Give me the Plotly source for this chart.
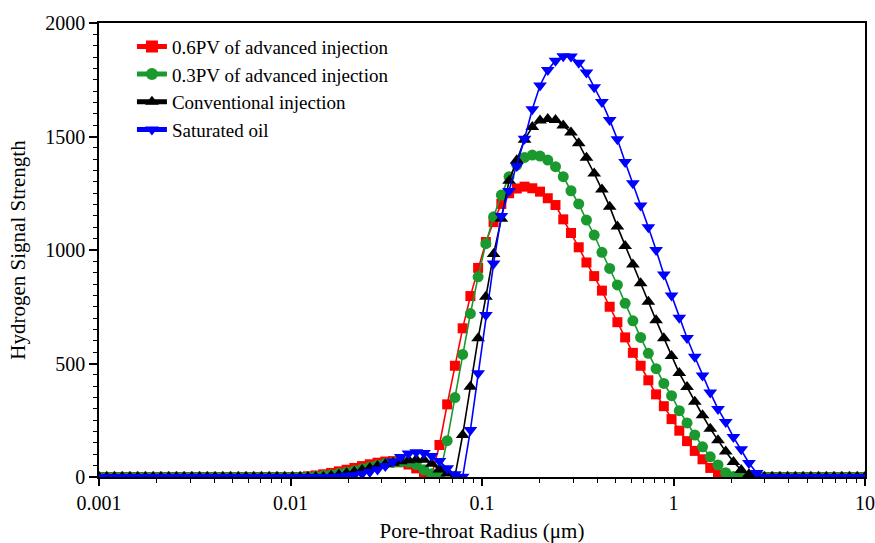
import plotly.graph_objects as go

# Pore-throat radius grid (µm), 100 log-spaced points from 0.001 to 10
radius = [
    0.001, 0.0010975, 0.0012045, 0.0013219, 0.0014508, 0.0015923, 0.0017475, 0.0019179, 0.0021049, 0.0023101,
    0.0025354, 0.0027825, 0.0030538, 0.0033516, 0.0036783, 0.0040370, 0.0044305, 0.0048625, 0.0053366, 0.0058569,
    0.0064279, 0.0070546, 0.0077424, 0.0084972, 0.0093257, 0.010235, 0.011233, 0.012329, 0.013531, 0.014850,
    0.016298, 0.017886, 0.019630, 0.021544, 0.023645, 0.025950, 0.028480, 0.031257, 0.034305, 0.037649,
    0.041320, 0.045349, 0.049770, 0.054623, 0.059948, 0.065793, 0.072207, 0.079247, 0.086974, 0.095454,
    0.10476, 0.11497, 0.12618, 0.13849, 0.15199, 0.16681, 0.18307, 0.20092, 0.22051, 0.24201,
    0.26560, 0.29150, 0.31992, 0.35111, 0.38534, 0.42291, 0.46416, 0.50941, 0.55908, 0.61359,
    0.67341, 0.73907, 0.81112, 0.89020, 0.97700, 1.0723, 1.1768, 1.2915, 1.4175, 1.5557,
    1.7073, 1.8738, 2.0565, 2.2570, 2.4770, 2.7185, 2.9836, 3.2745, 3.5937, 3.9441,
    4.3286, 4.7507, 5.2138, 5.7222, 6.2800, 6.8923, 7.5643, 8.3018, 9.1112, 10.0,
]

adv_06pv = [
    0, 0, 0, 0, 0, 0, 0, 0, 0, 0,
    0, 0, 0, 0, 0, 0, 0, 0, 0, 0,
    0, 0, 0, 0, 0, 0, 0, 3, 7, 12,
    18, 25, 32, 40, 48, 56, 63, 68, 70, 65,
    55, 38, 20, 8, 141, 320, 490, 655, 797, 921,
    1035, 1123, 1203, 1250, 1271, 1279, 1272, 1257, 1228, 1198,
    1135, 1075, 1012, 945, 885, 821, 750, 682, 615, 547,
    490, 426, 364, 312, 255, 204, 158, 115, 78, 40,
    10, 0, 0, 0, 0, 0, 0, 0, 0, 0,
    0, 0, 0, 0, 0, 0, 0, 0, 0, 0,
]

adv_03pv = [
    0, 0, 0, 0, 0, 0, 0, 0, 0, 0,
    0, 0, 0, 0, 0, 0, 0, 0, 0, 0,
    0, 0, 0, 0, 0, 0, 0, 0, 3, 6,
    10, 15, 21, 28, 36, 44, 52, 59, 64, 67,
    66, 55, 32, 14, 5, 160, 350, 540, 720, 882,
    1028, 1146, 1242, 1323, 1374, 1408, 1418, 1414, 1396, 1367,
    1323, 1261, 1203, 1132, 1066, 990, 919, 846, 765, 688,
    615, 545, 477, 412, 358, 292, 238, 185, 133, 89,
    53, 19, 2, 0, 0, 0, 0, 0, 0, 0,
    0, 0, 0, 0, 0, 0, 0, 0, 0, 0,
]

conventional = [
    0, 0, 0, 0, 0, 0, 0, 0, 0, 0,
    0, 0, 0, 0, 0, 0, 0, 0, 0, 0,
    0, 0, 0, 0, 0, 0, 0, 0, 0, 0,
    5, 10, 16, 23, 31, 40, 48, 56, 63, 69,
    74, 77, 76, 58, 33, 15, 2, 185, 398, 611,
    794, 982, 1138, 1305, 1395, 1486, 1542, 1570, 1577, 1573,
    1548, 1518, 1470, 1406, 1337, 1266, 1191, 1103, 1018, 936,
    853, 772, 690, 611, 533, 458, 396, 332, 272, 213,
    162, 112, 66, 31, 12, 0, 0, 0, 0, 0,
    0, 0, 0, 0, 0, 0, 0, 0, 0, 0,
]

saturated = [
    0, 0, 0, 0, 0, 0, 0, 0, 0, 0,
    0, 0, 0, 0, 0, 0, 0, 0, 0, 0,
    0, 0, 0, 0, 0, 0, 0, 0, 0, 0,
    0, 2, 5, 8, 14, 22, 33, 48, 68, 88,
    103, 109, 106, 93, 70, 38, 12, 1, 207, 457,
    714, 940, 1150, 1260, 1370, 1490, 1620, 1725, 1793, 1834,
    1853, 1852, 1825, 1782, 1717, 1652, 1573, 1488, 1388, 1294,
    1196, 1100, 1000, 892, 800, 702, 612, 530, 447, 372,
    300, 242, 176, 122, 62, 18, 0, 0, 0, 0,
    0, 0, 0, 0, 0, 0, 0, 0, 0, 0,
]

series_names = [
    "0.6PV of advanced injection",
    "0.3PV of advanced injection",
    "Conventional injection",
    "Saturated oil",
]
series_values = [adv_06pv, adv_03pv, conventional, saturated]
series_colors = ["#ff0000", "#1a9a2e", "#000000", "#0000ff"]
series_symbols = ["square", "circle", "triangle-up", "triangle-down"]
series_sizes = [10, 11, 12, 12]

x_tick_vals = [0.001, 0.01, 0.1, 1, 10]
x_tick_text = ["0.001", "0.01", "0.1", "1", "10"]
y_tick_vals = [0, 500, 1000, 1500, 2000]

FONT = "Liberation Serif, Times New Roman, serif"

fig = go.Figure()
for name, vals, col, sym, sz in zip(series_names, series_values, series_colors,
                                     series_symbols, series_sizes):
    fig.add_trace(go.Scatter(
        x=radius, y=vals, name=name, mode="lines+markers",
        line=dict(color=col, width=1.6),
        marker=dict(symbol=sym, size=sz, color=col, line=dict(width=0)),
    ))

fig.update_layout(
    width=875, height=543,
    margin=dict(l=99, r=10, t=23, b=66, autoexpand=False),
    paper_bgcolor="white", plot_bgcolor="white",
    font=dict(family=FONT, size=20, color="black"),
    showlegend=True,
    legend=dict(x=0.043, y=0.99, xanchor="left", yanchor="top",
                bgcolor="rgba(0,0,0,0)", font=dict(size=19, family=FONT),
                tracegroupgap=0, itemsizing="constant"),
)

fig.update_xaxes(
    type="log", range=[-3, 1], automargin=False,
    tickvals=x_tick_vals, ticktext=x_tick_text,
    ticks="outside", ticklen=7, tickwidth=1.5, tickcolor="black",
    showline=True, linewidth=1.5, linecolor="black", mirror=True,
    showgrid=False, zeroline=False,
    minor=dict(ticks="outside", ticklen=4, tickwidth=1.2, tickcolor="black",
               dtick="D1", showgrid=False),
    tickfont=dict(size=20, family=FONT),
    title=dict(text="Pore-throat Radius (μm)", font=dict(size=21, family=FONT), standoff=18),
)
fig.update_yaxes(
    range=[0, 2000], tickvals=y_tick_vals, automargin=False,
    ticks="outside", ticklen=8, tickwidth=1.5, tickcolor="black",
    showline=True, linewidth=1.5, linecolor="black", mirror=True,
    showgrid=False, zeroline=False,
    minor=dict(ticks="outside", ticklen=4, tickwidth=1.2, tickcolor="black",
               dtick=50, showgrid=False),
    tickfont=dict(size=20, family=FONT),
    title=dict(text="Hydrogen Signal Strength", font=dict(size=21, family=FONT), standoff=14),
)

fig.write_html("out.html")
